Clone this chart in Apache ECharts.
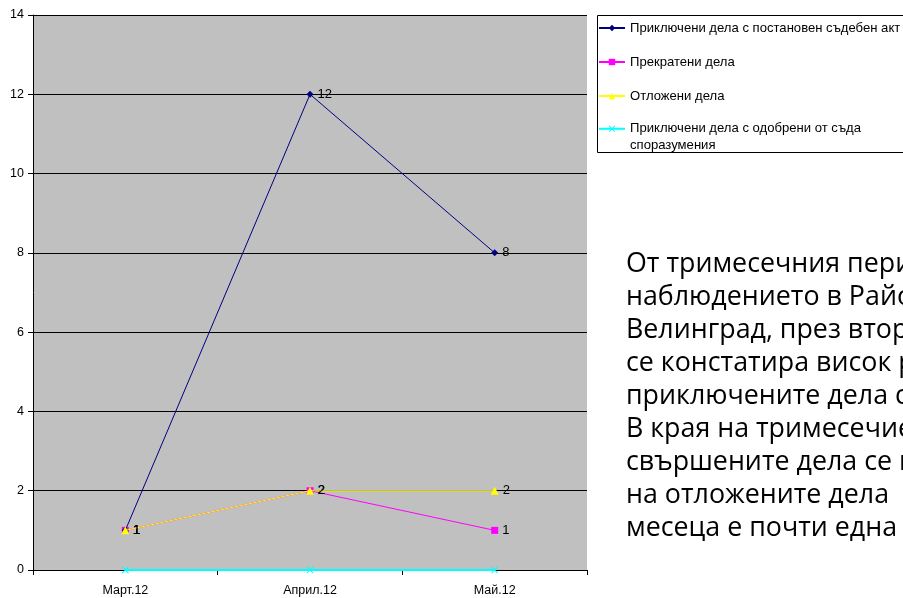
<!DOCTYPE html>
<html><head><meta charset="utf-8">
<script src="https://cdn.jsdelivr.net/npm/echarts@6/dist/echarts.min.js"></script>
<style>html,body{margin:0;padding:0;background:#fff;overflow:hidden}#c{width:903px;height:598px}</style>
</head><body><div id="c"></div>
<script>
const categories = ['Март.12', 'Април.12', 'Май.12'];
const seriesNames = [
  'Приключени дела с постановен съдебен акт',
  'Прекратени дела',
  'Отложени дела',
  'Приключени дела с одобрени от съда\nспоразумения'
];
const actCases = [1, 12, 8];
const terminatedCases = [1, 2, 1];
const postponedCases = [1, 2, 2];
const agreementCases = [0, 0, 0];
const yTicks = [0, 2, 4, 6, 8, 10, 12, 14];
const noteLines = [
  'От тримесечния период на',
  'наблюдението в Районен съд',
  'Велинград, през втория месец',
  'се констатира висок ръст на',
  'приключените дела с',
  'В края на тримесечието',
  'свършените дела се понижават',
  'на отложените дела',
  'месеца е почти една'
];

const xPath = 'path://M1,0 L5,4 L9,0 L10,1 L6,5 L10,9 L9,10 L5,6 L1,10 L0,9 L4,5 L0,1 Z';
const font = 'Arial, "Liberation Sans", sans-serif';
const chart = echarts.init(document.getElementById('c'), null, {renderer: 'canvas'});

function lbl(show) {
  return {show: show, position: 'right', distance: 4, color: '#000', fontSize: 13, fontFamily: font};
}

chart.setOption({
  animation: false,
  backgroundColor: '#fff',
  grid: {left: 33, right: 316, top: 15, bottom: 28, show: true, backgroundColor: '#C0C0C0', borderWidth: 0},
  xAxis: {
    type: 'category', data: categories, boundaryGap: true,
    axisLine: {lineStyle: {color: '#000', width: 1}},
    axisTick: {show: true, length: 5, lineStyle: {color: '#000'}},
    axisLabel: {color: '#000', fontSize: 12.5, fontFamily: font, margin: 14},
    splitLine: {show: false}
  },
  yAxis: {
    type: 'value', min: yTicks[0], max: yTicks[yTicks.length - 1], interval: 2,
    axisLine: {show: true, lineStyle: {color: '#000', width: 1}},
    axisTick: {show: true, length: 5, lineStyle: {color: '#000'}},
    axisLabel: {color: '#000', fontSize: 12.5, fontFamily: font, margin: 9},
    splitLine: {show: true, lineStyle: {color: '#000', width: 1}}
  },
  legend: [{
    orient: 'vertical', left: 598, top: 21, padding: 0, itemGap: 20,
    itemWidth: 26, itemHeight: 8,
    textStyle: {color: '#000', fontSize: 13.1, fontFamily: font, lineHeight: 14},
    data: [seriesNames[0], seriesNames[1], seriesNames[2]]
  }, {
    orient: 'vertical', left: 598, top: 104, padding: 0,
    itemWidth: 26, itemHeight: 8,
    formatter: function (name) { return ' \n' + name; },
    textStyle: {color: '#000', fontSize: 13.1, fontFamily: font, lineHeight: 16.5},
    data: [seriesNames[3]]
  }],
  graphic: [{
    type: 'rect', left: 597, top: 15, z: -1, silent: true,
    shape: {width: 330, height: 137},
    style: {fill: '#fff', stroke: '#000', lineWidth: 1}
  }, {
    type: 'text', left: 626, top: 248, silent: true,
    style: {text: noteLines.join('\n'), fill: '#000', font: '26.8px "Open Sans", "Noto Sans", sans-serif', lineHeight: 33}
  }],
  series: [{
    name: seriesNames[0], type: 'line', data: actCases,
    symbol: 'diamond', symbolSize: 7,
    lineStyle: {color: '#000080', width: 1}, itemStyle: {color: '#000080'},
    label: lbl(true), z: 4
  }, {
    name: seriesNames[1], type: 'line', data: terminatedCases,
    symbol: 'rect', symbolSize: 7,
    lineStyle: {color: '#FF00FF', width: 1}, itemStyle: {color: '#FF00FF'},
    label: lbl(true), z: 3
  }, {
    name: seriesNames[2], type: 'line', data: postponedCases,
    symbol: 'triangle', symbolSize: 8,
    lineStyle: {color: '#FFFF00', width: 1}, itemStyle: {color: '#FFFF00'},
    label: lbl(true), z: 5
  }, {
    name: seriesNames[3], type: 'line', data: agreementCases,
    symbol: xPath, symbolSize: 7,
    lineStyle: {color: '#00FFFF', width: 2}, itemStyle: {color: '#00FFFF'},
    label: lbl(false), z: 6
  }]
});
</script></body></html>
